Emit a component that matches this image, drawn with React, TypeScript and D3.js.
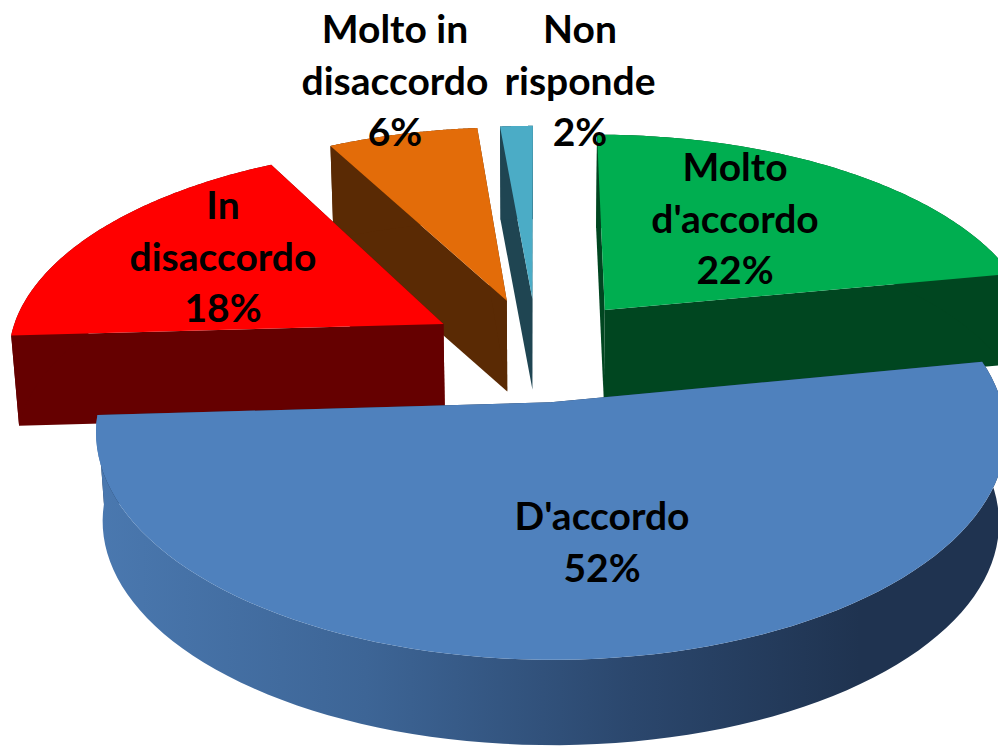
import React from "react";
import * as d3 from "d3";

const categories = ["Molto d'accordo", "D'accordo", "In disaccordo", "Molto in disaccordo", "Non risponde"];
const values = [22, 52.1, 18.07, 6.43, 1.4];
const percentLabels = ["22%", "52%", "18%", "6%", "2%"];
const labelLines = [["Molto", "d'accordo", "22%"], ["D'accordo", "52%"], ["In", "disaccordo", "18%"], ["Molto in", "disaccordo", "6%"], ["Non", "risponde", "2%"]];
const topColors = ["#00AE50", "#4F81BD", "#FF0000", "#E36C09", "#4BACC6"];
const sideColors = ["#004620", "#1F3350", "#650000", "#5A2A04", "#1F4552"];
const labelAnchors: [number, number][] = [[735, 181], [602, 530], [223, 219], [395, 43], [580, 43]];
const lineStep = 51.5;
const drawOrder = [4, 3, 2, 0, 1];

const W = 998, H = 747;
const cx = 537, cy = 349, A = 436, B = 208, k = 0.132, D = 90, m = 0.015, explode = 0.25;

function project(u: number, v: number, z: number): [number, number] {
  const s = 1 / (1 + k * v);
  return [cx + A * u * s * (1 - m * z), cy - B * v * s * (1 - m * z) + D * z];
}

export default function App() {
  const arcs = d3.pie<number>().sort(null).startAngle(0).endAngle(2 * Math.PI)(values);
  const line = d3.line();
  const faces = (i: number) => {
    const a = arcs[i];
    const mid = (a.startAngle + a.endAngle) / 2;
    const ox = explode * Math.sin(mid), oy = explode * Math.cos(mid);
    const pt = (th: number, r: number, z: number) => project(ox + r * Math.sin(th), oy + r * Math.cos(th), z);
    const ths = d3.range(0, 91).map((j) => a.startAngle + ((a.endAngle - a.startAngle) * j) / 90);
    const top = [pt(0, 0, 0), ...ths.map((t) => pt(t, 1, 0))];
    const startFace = [pt(0, 0, 0), pt(a.startAngle, 1, 0), pt(a.startAngle, 1, 1), pt(0, 0, 1)];
    const endFace = [pt(0, 0, 0), pt(a.endAngle, 1, 0), pt(a.endAngle, 1, 1), pt(0, 0, 1)];
    const wall = [...ths.map((t) => pt(t, 1, 0)), ...ths.slice().reverse().map((t) => pt(t, 1, 1))];
    return { top, startFace, endFace, wall };
  };
  return (
    <svg width={W} height={H} style={{ position: "absolute", left: 0, top: 0, background: "#fff" }}>
      <defs>
        <linearGradient id="wall" gradientUnits="userSpaceOnUse" x1={100} x2={860} y1={0} y2={0}>
          <stop offset="0" stopColor="#4A78AF" />
          <stop offset="0.35" stopColor="#3D6596" />
          <stop offset="0.7" stopColor="#2B476D" />
          <stop offset="1" stopColor="#1F3350" />
        </linearGradient>
      </defs>
      {drawOrder.map((i) => {
        const f = faces(i);
        return (
          <g key={categories[i]}>
            <path d={line(f.startFace)!} fill={sideColors[i]} />
            <path d={line(f.endFace)!} fill={sideColors[i]} />
            <path d={line(f.wall)! + "Z"} fill={i === 1 ? "url(#wall)" : sideColors[i]} />
            <path d={line(f.top)! + "Z"} fill={topColors[i]} />
          </g>
        );
      })}
      {labelLines.map((lines, i) => (
        <text key={percentLabels[i]} x={labelAnchors[i][0]} y={labelAnchors[i][1]} textAnchor="middle"
          fontFamily="Lato, 'Open Sans', sans-serif" fontWeight={700} fontSize={39} fill="#000">
          {lines.map((t, j) => (
            <tspan key={j} x={labelAnchors[i][0]} y={labelAnchors[i][1] + j * lineStep}>{t}</tspan>
          ))}
        </text>
      ))}
    </svg>
  );
}
